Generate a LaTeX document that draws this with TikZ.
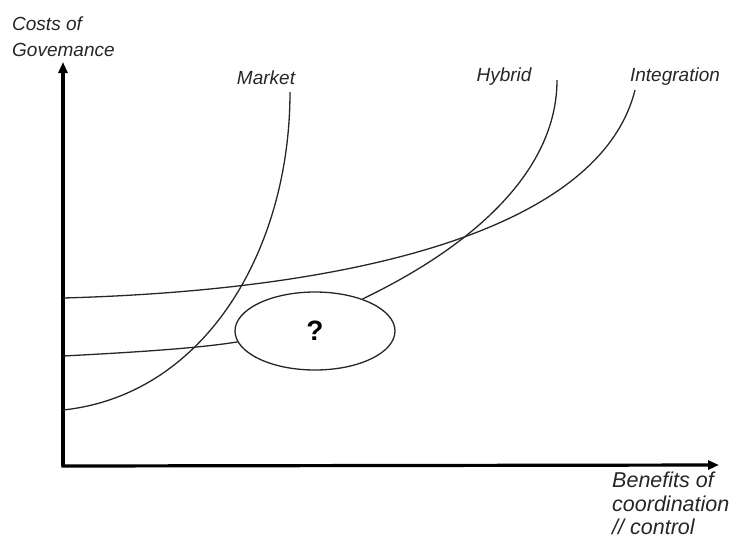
\documentclass[tikz,border=0pt]{standalone}
\usepackage{fontspec}
\setmainfont{Liberation Sans}
\usetikzlibrary{arrows.meta,shapes.geometric}
\begin{document}
\begin{tikzpicture}[x=1pt,y=-1pt,
  axis/.style={line width=3.2pt,-{Triangle[length=11pt,width=9pt]}},
  curve/.style={line width=1.3pt,draw=black!85},
  lbl/.style={font=\fontsize{19}{26}\selectfont\itshape,inner sep=0pt,text=black!85}]
\useasboundingbox (0,0) rectangle (735,539);
% axes
\coordinate (o) at (63,466);
\coordinate (ytop) at (63,62);
\coordinate (xend) at (719,465);
\draw[axis] (o) -- (ytop);
\draw[axis] ([xshift=-1.6pt]o) -- (xend);
% axis labels
\node[lbl,anchor=north west,align=left] (ylab) at (12,17) {Costs of\\Govemance};
\node[lbl,anchor=north west,align=left,font=\fontsize{21.5}{23.5}\selectfont\itshape] (xlab) at (612,472) {Benefits of\\coordination\\// control};
% curve labels
\node[lbl] (lmarket) at (266,78) {Market};
\node[lbl] (lhybrid) at (504,77) {Hybrid};
\node[lbl] (linteg) at (675,77) {Integration};
% curve ends
\coordinate (m0) at (63,410);
\coordinate (m1) at (290,92);
\coordinate (h0) at (63,356);
\coordinate (h1) at (557,80);
\coordinate (i0) at (63,298);
\coordinate (i1) at (635,90);
% open question
\node[ellipse,draw=black!85,line width=1.3pt,minimum width=160pt,minimum height=78pt,inner sep=0pt,
      font=\fontsize{28}{30}\selectfont\bfseries] (q) at (315,331) {?};
% governance curves
\draw[curve] (m0) .. controls (205,395) and (290,250) .. (m1);
\draw[curve] (i0) .. controls (355,290) and (600,230) .. (i1);
\draw[curve] (h0) .. controls (140,352) and (200,348) .. (q.188);
\draw[curve] (q.34) .. controls (475,245) and (557,170) .. (h1);
\end{tikzpicture}
\end{document}
